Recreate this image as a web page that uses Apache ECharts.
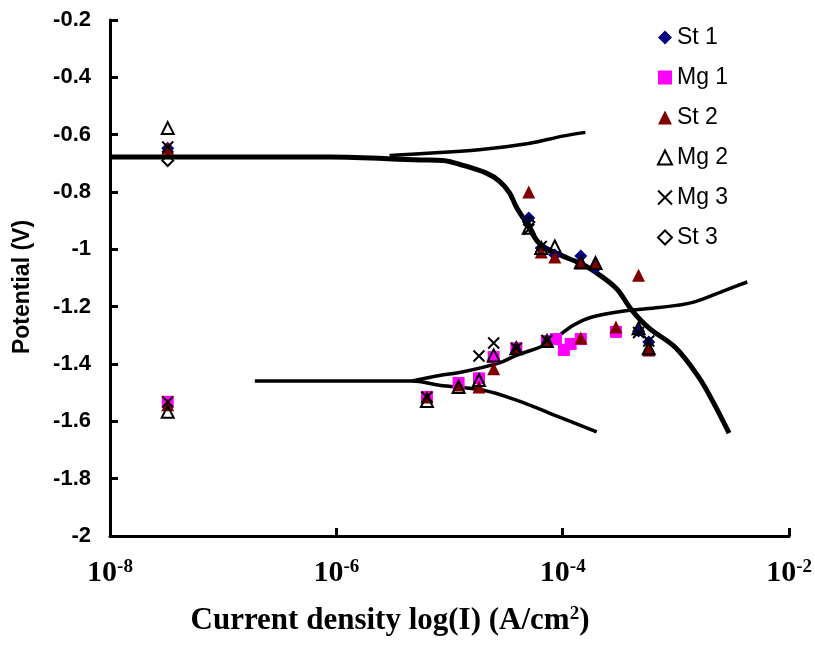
<!DOCTYPE html>
<html>
<head>
<meta charset="utf-8">
<script src="https://cdn.jsdelivr.net/npm/echarts@6/dist/echarts.min.js"></script>
<style>
  html, body { margin: 0; padding: 0; background: #fff; }
  #chart { width: 815px; height: 645px; }
</style>
</head>
<body>
<div id="chart"></div>
<script>
// x values are log10 of current density (A/cm2), y values are potential (V)
const xTicks = [-8, -6, -4, -2];

// Polarisation curves
const steelCathodic = [[-8.0,-0.678],[-6.06,-0.678],[-5.26,-0.688],[-5.06,-0.690],[-4.89,-0.706],[-4.67,-0.735],[-4.56,-0.762],[-4.47,-0.803],[-4.41,-0.852],[-4.32,-0.908],[-4.21,-0.978],[-4.06,-1.013],[-3.85,-1.048],[-3.74,-1.072],[-3.53,-1.135],[-3.39,-1.212],[-3.24,-1.274],[-3.00,-1.344],[-2.80,-1.445],[-2.68,-1.526],[-2.53,-1.641]];
const steelAnodic = [[-5.53,-0.673],[-5.09,-0.662],[-4.74,-0.653],[-4.29,-0.630],[-4.00,-0.605],[-3.80,-0.592]];
const mgCathodic = [[-6.72,-1.459],[-5.33,-1.459],[-5.09,-1.474],[-4.71,-1.491],[-4.41,-1.526],[-4.12,-1.571],[-3.70,-1.637]];
const mgAnodic = [[-5.33,-1.459],[-5.09,-1.440],[-4.89,-1.428],[-4.56,-1.396],[-4.41,-1.370],[-4.14,-1.330],[-3.91,-1.266],[-3.74,-1.236],[-3.44,-1.214],[-3.15,-1.203],[-2.86,-1.186],[-2.56,-1.142],[-2.37,-1.114]];

// Measured points
const st1 = [[-7.49,-0.647],[-4.30,-0.891],[-4.19,-0.995],[-4.07,-1.020],[-3.84,-1.023],[-3.71,-1.065],[-3.33,-1.285],[-3.24,-1.323]];
const mg1 = [[-7.49,-1.532],[-5.20,-1.515],[-4.92,-1.466],[-4.74,-1.450],[-4.61,-1.376],[-4.41,-1.345],[-4.14,-1.320],[-4.06,-1.313],[-3.99,-1.351],[-3.93,-1.330],[-3.84,-1.313],[-3.53,-1.288]];
const st2 = [[-7.49,-0.647],[-7.49,-1.542],[-5.20,-1.515],[-4.92,-1.473],[-4.74,-1.480],[-4.61,-1.417],[-4.41,-1.345],[-4.14,-1.320],[-3.84,-1.309],[-3.53,-1.271],[-3.24,-1.351],[-4.30,-0.800],[-4.19,-1.009],[-4.07,-1.027],[-3.84,-1.048],[-3.71,-1.048],[-3.33,-1.090]];
const mg2 = [[-7.49,-0.577],[-7.49,-1.567],[-5.20,-1.529],[-4.92,-1.480],[-4.74,-1.456],[-4.61,-1.370],[-4.41,-1.345],[-4.14,-1.320],[-4.30,-0.925],[-4.19,-0.995],[-4.07,-0.990],[-3.84,-1.045],[-3.71,-1.048],[-3.33,-1.275],[-3.24,-1.345]];
const mg3 = [[-7.49,-0.643],[-7.49,-1.532],[-5.20,-1.515],[-4.74,-1.372],[-4.61,-1.327],[-4.41,-1.345],[-4.14,-1.318],[-4.30,-0.930],[-4.19,-0.990],[-3.33,-1.290],[-3.24,-1.320]];
const st3 = [[-7.49,-0.690],[-4.30,-0.905]];

const chart = echarts.init(document.getElementById('chart'), null, { renderer: 'canvas' });

function curve(data, width) {
  return {
    type: 'line', data: data, symbol: 'none', smooth: 0.35, silent: true,
    lineStyle: { color: '#000', width: width }, z: 1, legendHoverLink: false
  };
}
function points(name, data, symbol, size, style) {
  return {
    name: name, type: 'scatter', data: data, symbol: symbol, symbolSize: size,
    itemStyle: Object.assign({ opacity: 1 }, style), z: 3
  };
}

const crossPath = 'path://M0,0L10,10M10,0L0,10';

chart.setOption({
  animation: false,
  backgroundColor: '#fff',
  grid: { left: 110, right: 25, top: 20, bottom: 109, containLabel: false },
  legend: {
    orient: 'vertical', left: 652, top: 21, itemWidth: 14, itemHeight: 14, itemGap: 17,
    textStyle: { fontFamily: 'Liberation Sans, Arial, sans-serif', fontSize: 23, color: '#000' },
    data: ['St 1', 'Mg 1', 'St 2', 'Mg 2', 'Mg 3', 'St 3']
  },
  xAxis: {
    type: 'value', min: -8, max: -2, interval: 2,
    axisLine: { show: true, onZero: false, lineStyle: { color: '#000', width: 3 } },
    axisTick: { show: true, inside: true, length: 8, lineStyle: { color: '#000', width: 3 } },
    splitLine: { show: false },
    axisLabel: {
      margin: 22,
      formatter: v => '{b|10}{s|' + v + '}',
      rich: {
        b: { fontFamily: 'Liberation Serif, Times New Roman, serif', fontWeight: 'bold', fontSize: 30, color: '#000', lineHeight: 30 },
        s: { fontFamily: 'Liberation Serif, Times New Roman, serif', fontWeight: 'bold', fontSize: 19, color: '#000', verticalAlign: 'top', lineHeight: 30, padding: [0, 0, 12, 0] }
      }
    }
  },
  yAxis: {
    type: 'value', min: -2, max: -0.2, interval: 0.2,
    axisLine: { show: true, onZero: false, lineStyle: { color: '#000', width: 3 } },
    axisTick: { show: true, inside: true, length: 8, lineStyle: { color: '#000', width: 3 } },
    splitLine: { show: false },
    axisLabel: {
      margin: 19, color: '#000', fontSize: 22, fontWeight: 'bold',
      fontFamily: 'Liberation Sans, Arial, sans-serif'
    }
  },
  graphic: [
    {
      type: 'text', x: 23, y: 287, rotation: Math.PI / 2,
      style: {
        text: 'Potential (V)', fill: '#000', align: 'center', verticalAlign: 'middle',
        font: 'bold 23px "Liberation Sans", Arial, sans-serif'
      }
    },
    {
      type: 'text', x: 390, y: 621,
      style: {
        text: '{t|Current density log(I) (A/cm}{s|2}{t|)}', align: 'center', verticalAlign: 'middle',
        rich: {
          t: { fontFamily: 'Liberation Serif, Times New Roman, serif', fontWeight: 'bold', fontSize: 31, fill: '#000', lineHeight: 34 },
          s: { fontFamily: 'Liberation Serif, Times New Roman, serif', fontWeight: 'bold', fontSize: 19, fill: '#000', lineHeight: 34, padding: [0, 0, 14, 0] }
        }
      }
    }
  ],
  series: [
    curve(steelCathodic, 5),
    curve(steelAnodic, 3.5),
    curve(mgCathodic, 3.5),
    curve(mgAnodic, 3.5),
    points('St 1', st1, 'diamond', 13, { color: '#000080' }),
    points('Mg 1', mg1, 'rect', 12, { color: '#FF00FF' }),
    points('St 2', st2, 'triangle', 13, { color: '#800000' }),
    points('Mg 2', mg2, 'triangle', 12, { color: 'transparent', borderColor: '#000', borderWidth: 2 }),
    points('Mg 3', mg3, crossPath, 11, { color: 'transparent', borderColor: '#000', borderWidth: 2 }),
    points('St 3', st3, 'diamond', 11, { color: 'transparent', borderColor: '#000', borderWidth: 2 })
  ]
});
</script>
</body>
</html>
